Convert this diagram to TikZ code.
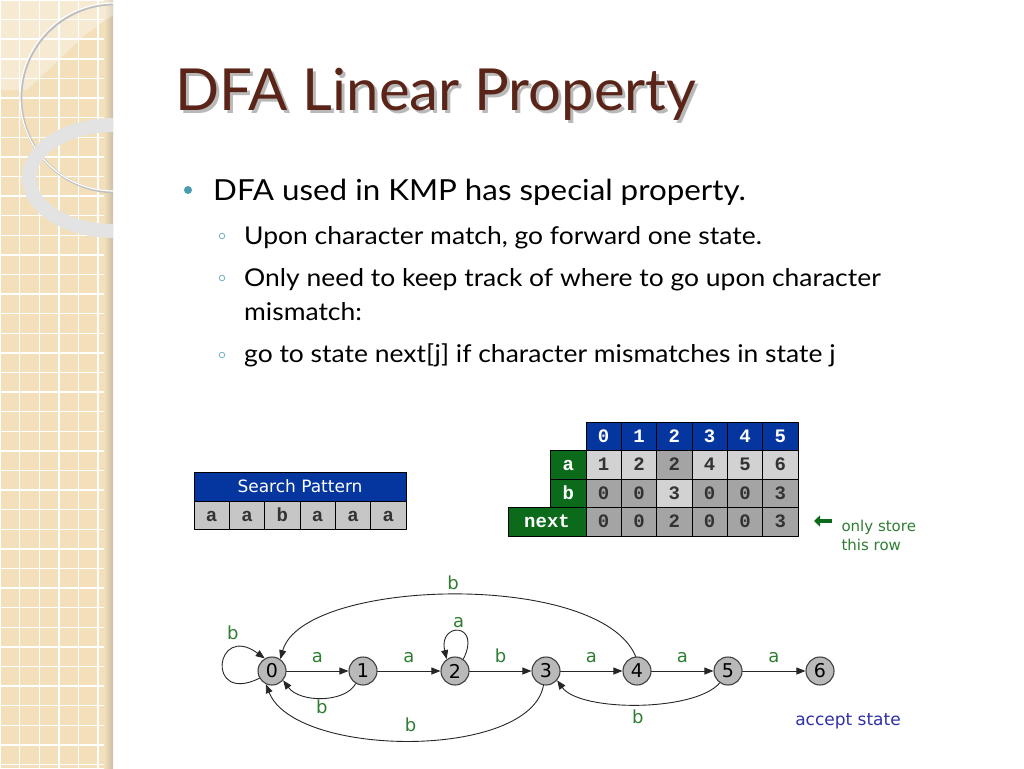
\documentclass[tikz,border=0pt]{standalone}
\usepackage{fontspec}
\setmainfont{Lato}
\newfontfamily\bodyfont[FakeStretch=1.08]{Lato}
\newfontfamily\tabfont{Liberation Mono}
\newfontfamily\handfont{DejaVu Sans}
\usetikzlibrary{arrows.meta}
\definecolor{bandbeige}{HTML}{F3E0BA}
\definecolor{titlebrown}{HTML}{5A2518}
\definecolor{bulletteal}{HTML}{4A9DB0}
\definecolor{hdrblue}{HTML}{0536A0}
\definecolor{labgreen}{HTML}{0B6B1A}
\definecolor{celldark}{HTML}{A4A4A4}
\definecolor{celllight}{HTML}{D2D2D2}
\definecolor{symgreen}{HTML}{2E7D32}
\definecolor{acceptblue}{HTML}{3030A8}
\tikzset{
    cell/.style={
        draw=black, line width=0.9pt, minimum width=35.3pt, minimum height=28.5pt,
        inner sep=0pt, text=black!80, text height=11pt, text depth=0pt,
        font=\tabfont\bfseries\fontsize{19}{19}\selectfont
    },
    hdrcell/.style={cell, fill=hdrblue, text=white},
    labcell/.style={cell, fill=labgreen, text=white},
    state/.style={
        circle, draw=black!75, fill=gray!55, line width=1.1pt,
        minimum size=28pt, inner sep=0pt,
        font=\handfont\fontsize{19}{19}\selectfont
    },
    trans/.style={-{Triangle[length=9pt,width=7pt]}, line width=0.9pt, black!85},
    sym/.style={text=symgreen, inner sep=2pt, font=\handfont\fontsize{18}{18}\selectfont},
    bodytext/.style={anchor=base west, inner sep=0pt, text=black}
}

\begin{document}
\begin{tikzpicture}[x=1pt,y=-1pt,line cap=round,line join=round]
\useasboundingbox (0,0) rectangle (1024,768);

% side band with its grid
\fill[bandbeige] (0,0) rectangle (113,768);
\foreach \g in {0,19.6,...,770}
  \draw[white, line width=1.4pt] (0,\g) -- (113,\g);
\foreach \g in {0,19.6,...,113}
  \draw[white, line width=1.4pt] (\g,0) -- (\g,768);
\shade[left color=bandbeige, right color=bandbeige!65!gray] (104,0) rectangle (113,768);

% rings over the band
\begin{scope}
  \clip (0,0) rectangle (113,768);
  \fill[white, opacity=0.35] (0,0) -- (113,0) -- (113,15) -- (85,35) -- (27,90) -- (0,90) -- cycle;
  \draw[gray!50, line width=2.6pt] (115,98) circle (94);
  \draw[white, line width=1.2pt] (114,97) circle (94);
  \draw[gray!22, line width=14pt] (114,178) ellipse (85 and 53);
\end{scope}

% title with its shadow
\node[bodytext, text=gray!55, font=\fontsize{58}{58}\selectfont] (ttlshadow) at (178,113) {DFA Linear Property};
\node[bodytext, text=titlebrown, font=\fontsize{58}{58}\selectfont] (ttl) at (175,110) {DFA Linear Property};

% bullets
\fill[bulletteal] (188,190) circle (4);
\node[bodytext, font=\bodyfont\fontsize{29}{29}\selectfont] (pt1) at (213,200) {DFA used in KMP has special property.};
\foreach \yy in {236,278,355}
  \draw[bulletteal!80, line width=0.8pt] (222,\yy) circle (2.8);
\node[bodytext, font=\bodyfont\fontsize{24.5}{24.5}\selectfont] (sub1) at (244,244) {Upon character match, go forward one state.};
\node[bodytext, font=\bodyfont\fontsize{24.5}{24.5}\selectfont] (sub2) at (244,286) {Only need to keep track of where to go upon character};
\node[bodytext, font=\bodyfont\fontsize{24.5}{24.5}\selectfont] (sub2b) at (244,320) {mismatch:};
\node[bodytext, font=\bodyfont\fontsize{24.5}{24.5}\selectfont] (sub3) at (244,362) {go to state next[j] if character mismatches in state j};

% search pattern
\node[hdrcell, minimum width=212pt, font=\handfont\fontsize{17}{17}\selectfont] (sphdr) at (300,487) {Search Pattern};
\foreach \c [count=\i from 0] in {a,a,b,a,a,a}
  \node[cell, fill=gray!45] (sp\i) at ({194+35.33*(\i+0.5)},515.5) {\c};

% next table
\foreach \i in {0,...,5}
  \node[hdrcell] (h\i) at ({586+35.33*(\i+0.5)},436.5) {\i};
\node[labcell] (la) at (568.4,465) {a};
\node[labcell] (lb) at (568.4,493.5) {b};
\node[labcell, minimum width=78pt] (lnext) at (547,522) {next};
\foreach \v/\f [count=\i from 0] in {1/celllight,2/celllight,2/celldark,4/celllight,5/celllight,6/celllight}
  \node[cell, fill=\f] (ra\i) at ({586+35.33*(\i+0.5)},465) {\v};
\foreach \v/\f [count=\i from 0] in {0/celldark,0/celldark,3/celllight,0/celldark,0/celldark,3/celldark}
  \node[cell, fill=\f] (rb\i) at ({586+35.33*(\i+0.5)},493.5) {\v};
\foreach \v [count=\i from 0] in {0,0,2,0,0,3}
  \node[cell, fill=celldark] (rn\i) at ({586+35.33*(\i+0.5)},522) {\v};

% note on the next row
\node[anchor=west, align=left, text=symgreen, font=\handfont\fontsize{15}{19}\selectfont] (note) at (838,535) {only store\\this row};
\coordinate (arrtail) at (832,521);
\coordinate (arrtip) at (814,521);
\draw[labgreen, line width=4pt, line cap=butt, -{Triangle[length=6pt,width=11pt]}] (arrtail) -- (arrtip);

% states
\foreach \i/\xx in {0/272,1/363,2/455,3/546,4/637,5/728,6/820}
  \node[state] (s\i) at (\xx,671) {\i};

% match transitions
\foreach \i/\j/\c in {0/1/a,1/2/a,2/3/b,3/4/a,4/5/a,5/6/a}
  \draw[trans] (s\i) -- node[sym, above=6pt] {\c} (s\j);

% self loops
\draw[trans] (s0.210) .. controls (205,705) and (215,622) .. node[sym, pos=0.72, above=9pt] {b} (s0.120);
\draw[trans] (s2.55) .. controls (482,622) and (438,622) .. node[sym, above=1pt] {a} (s2.125);

% mismatch transitions
\draw[trans] (s1.240) .. controls (345,703) and (300,703) .. node[sym, below=0pt] {b} (s0.-40);
\draw[trans] (s3.260) .. controls (530,760) and (295,758) .. node[sym, above=6pt] {b} (s0.-115);
\draw[trans] (s4.95) .. controls (600,570) and (303,578) .. node[sym, above=3pt] {b} (s0.55);
\draw[trans] (s5.235) .. controls (695,712) and (580,712) .. node[sym, below=3pt] {b} (s3.-40);

\node[text=acceptblue, font=\handfont\fontsize{17}{17}\selectfont] (acc) at (848,721) {accept state};

\end{tikzpicture}
\end{document}
